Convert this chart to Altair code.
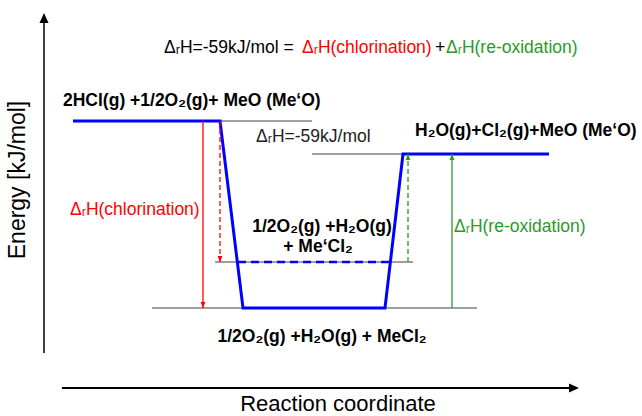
import altair as alt
import pandas as pd

W, H = 642, 416
FONT = "Liberation Sans"

# ---- energy diagram data (diagram units; higher e = higher energy) ----
grey_x1 = [220, 312, 215, 152]
grey_x2 = [312, 403, 413, 477]
grey_e = [295, 262, 154, 108]

path_x = [73, 220, 243, 385, 403, 549]
path_e = [295, 295, 108, 108, 262, 262]

dash_x1 = [238]
dash_x2 = [389]
dash_e = [154]

arrow_x = [203, 220, 408, 452]
arrow_from = [295, 295, 154, 108]
arrow_to = [108, 154, 262, 262]
arrow_color = ["#ff0000", "#ff0000", "#2a9a2a", "#2a9a2a"]
arrow_dashed = [False, True, True, False]

# axes of the diagram
yaxis_x = [44]
yaxis_e1 = [63]
yaxis_e2 = [398]
yaxis_tip = [403]
xaxis_e = [28]
xaxis_x1 = [62]
xaxis_x2 = [572]
xaxis_tip = [579]

# ---- labels ----
norm_text = ["ΔᵣH=-59kJ/mol = ", "ΔᵣH(chlorination)", "+", "ΔᵣH(re-oxidation)",
             "ΔᵣH=-59kJ/mol", "ΔᵣH(chlorination)", "ΔᵣH(re-oxidation)"]
norm_x = [164, 302, 435, 446, 256, 70, 454]
norm_e = [368, 368, 368, 368, 279, 206, 189]
norm_color = ["#000000", "#ff0000", "#000000", "#2a9a2a", "#222222", "#ff0000", "#2a9a2a"]

boldl_text = ["2HCl(g) +1/2O₂(g)+ MeO (Me‘O)", "H₂O(g)+Cl₂(g)+MeO (Me‘O)"]
boldl_x = [63, 415]
boldl_e = [315, 285]

boldc_text = ["1/2O₂(g) +H₂O(g)", "+ Me‘Cl₂", "1/2O₂(g) +H₂O(g) + MeCl₂"]
boldc_x = [322, 318, 322]
boldc_e = [189, 169, 79]

ytitle_text = ["Energy [kJ/mol]"]
ytitle_x = [18]
ytitle_e = [236]
xtitle_text = ["Reaction coordinate"]
xtitle_x = [338]
xtitle_e = [5]

xs = alt.Scale(domain=[0, W], nice=False, zero=False)
ys = alt.Scale(domain=[0, H], nice=False, zero=False)


def X(f="x"):
    return alt.X(f + ":Q", scale=xs, axis=None)


def Y(f="e"):
    return alt.Y(f + ":Q", scale=ys, axis=None)


grey_df = pd.DataFrame({"x": grey_x1, "x2": grey_x2, "e": grey_e})
grey = alt.Chart(grey_df).mark_rule(color="#7f7f7f", strokeWidth=1.5).encode(
    x=X(), x2="x2:Q", y=Y())

path_df = pd.DataFrame({"x": path_x, "e": path_e, "i": list(range(len(path_x)))})
blue = alt.Chart(path_df).mark_line(color="#0000ff", strokeWidth=3, strokeJoin="miter").encode(
    x=X(), y=Y(), order="i:Q")

dash_df = pd.DataFrame({"x": dash_x1, "x2": dash_x2, "e": dash_e})
bdash = alt.Chart(dash_df).mark_rule(color="#0000ff", strokeWidth=2.5, strokeDash=[8, 5]).encode(
    x=X(), x2="x2:Q", y=Y())

arr_df = pd.DataFrame({"x": arrow_x, "e": arrow_from, "e2": arrow_to,
                       "c": arrow_color, "d": arrow_dashed})
arr_df["shape"] = ["M0,0L-0.4,-1L0.4,-1Z" if a > b else "M0,0L-0.4,1L0.4,1Z"
                   for a, b in zip(arrow_from, arrow_to)]

solid_arr = alt.Chart(arr_df[~arr_df["d"]]).mark_rule(strokeWidth=1.3).encode(
    x=X(), y=Y(), y2="e2:Q", color=alt.Color("c:N", scale=None))
dashed_arr = alt.Chart(arr_df[arr_df["d"]]).mark_rule(strokeWidth=1.3, strokeDash=[5, 3]).encode(
    x=X(), y=Y(), y2="e2:Q", color=alt.Color("c:N", scale=None))
heads = alt.Chart(arr_df).mark_point(filled=True, size=144, opacity=1, strokeWidth=0).encode(
    x=X(), y=Y("e2"), color=alt.Color("c:N", scale=None), shape=alt.Shape("shape:N", scale=None))

yaxis_df = pd.DataFrame({"x": yaxis_x, "e": yaxis_e1, "e2": yaxis_e2, "tip": yaxis_tip})
yline = alt.Chart(yaxis_df).mark_rule(color="black", strokeWidth=1.5).encode(
    x=X(), y=Y(), y2="e2:Q")
yhead = alt.Chart(yaxis_df).mark_point(filled=True, size=400, opacity=1, color="black",
                                        strokeWidth=0, shape="M0,0L-0.45,1L0.45,1Z").encode(
    x=X(), y=Y("tip"))

xaxis_df = pd.DataFrame({"x": xaxis_x1, "x2": xaxis_x2, "e": xaxis_e, "tip": xaxis_tip})
xline = alt.Chart(xaxis_df).mark_rule(color="black", strokeWidth=2).encode(
    x=X(), x2="x2:Q", y=Y())
xhead = alt.Chart(xaxis_df).mark_point(filled=True, size=400, opacity=1, color="black",
                                        strokeWidth=0, shape="M0,0L-1,-0.45L-1,0.45Z").encode(
    x=X("tip"), y=Y())

norm_df = pd.DataFrame({"x": norm_x, "e": norm_e, "t": norm_text, "c": norm_color})
norm = alt.Chart(norm_df).mark_text(font=FONT, fontSize=17.5, align="left", baseline="middle").encode(
    x=X(), y=Y(), text="t:N", color=alt.Color("c:N", scale=None))

boldl_df = pd.DataFrame({"x": boldl_x, "e": boldl_e, "t": boldl_text})
boldl = alt.Chart(boldl_df).mark_text(font=FONT, fontSize=17.5, fontWeight="bold", align="left",
                                      baseline="middle", color="black").encode(
    x=X(), y=Y(), text="t:N")

boldc_df = pd.DataFrame({"x": boldc_x, "e": boldc_e, "t": boldc_text})
boldc = alt.Chart(boldc_df).mark_text(font=FONT, fontSize=17.5, fontWeight="bold", align="center",
                                      baseline="middle", color="black").encode(
    x=X(), y=Y(), text="t:N")

ytitle_df = pd.DataFrame({"x": ytitle_x, "e": ytitle_e, "t": ytitle_text})
ytitle = alt.Chart(ytitle_df).mark_text(font=FONT, fontSize=23, align="center", angle=270,
                                        baseline="middle", color="black").encode(
    x=X(), y=Y(), text="t:N")

xtitle_df = pd.DataFrame({"x": xtitle_x, "e": xtitle_e, "t": xtitle_text})
xtitle = alt.Chart(xtitle_df).mark_text(font=FONT, fontSize=22, align="center",
                                        baseline="alphabetic", color="black").encode(
    x=X(), y=Y(), text="t:N")

chart = alt.layer(
    grey, bdash, blue, solid_arr, dashed_arr, heads,
    yline, yhead, xline, xhead, norm, boldl, boldc, ytitle, xtitle
).properties(
    width=W, height=H, autosize="none", padding=0, background="white"
).configure_view(stroke=None)

chart.save("out.html", embed_options={"renderer": "svg", "actions": False})
